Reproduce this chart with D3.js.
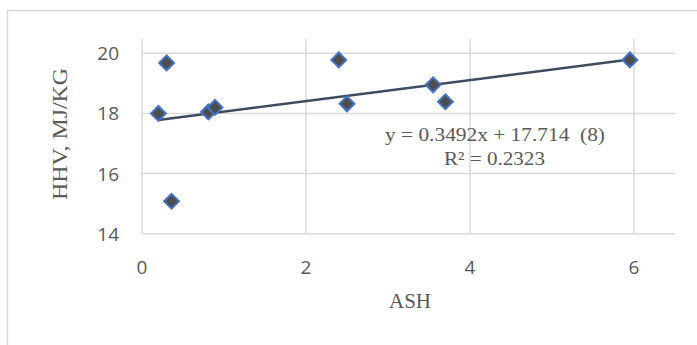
<!DOCTYPE html>
<html>
<head>
<meta charset="utf-8">
<script src="https://cdn.jsdelivr.net/npm/d3@7"></script>
<style>
  body { margin: 0; background: #fff; }
  svg { display: block; }
  text { white-space: pre; }
</style>
</head>
<body>
<div id="chart"></div>
<script>
// ash (%) vs HHV (MJ/kg)
const ash = [0.2, 0.3, 0.36, 0.81, 0.89, 2.4, 2.5, 3.55, 3.7, 5.95];
const hhv = [18.0, 19.68, 15.08, 18.05, 18.2, 19.78, 18.32, 18.95, 18.39, 19.78];
const xTicks = [0, 2, 4, 6];
const yTicks = [14, 16, 18, 20];
const slope = 0.3492;
const intercept = 17.714;
const eqLines = ["y = 0.3492x + 17.714  (8)", "R\u00b2 = 0.2323"];

const width = 697, height = 345;

const svg = d3.select("#chart").append("svg")
    .attr("width", width)
    .attr("height", height);

// chart frame (cut off on the right and bottom)
svg.append("rect")
    .attr("x", 7.5).attr("y", 10.5)
    .attr("width", 720).attr("height", 360)
    .attr("fill", "none")
    .attr("stroke", "#d9d9d9")
    .attr("stroke-width", 1.5);

const x = d3.scaleLinear().domain([0, 6.5]).range([142, 675]);
const y = d3.scaleLinear().domain([14, 20]).range([233.7, 53.3]);
const plotTop = 39;

// gridlines
svg.append("g").selectAll("line.h")
    .data(yTicks).enter().append("line")
    .attr("x1", x(0)).attr("x2", x(6.5))
    .attr("y1", d => y(d)).attr("y2", d => y(d))
    .attr("stroke", "#d9d9d9").attr("stroke-width", 1.5);

svg.append("g").selectAll("line.v")
    .data(xTicks).enter().append("line")
    .attr("x1", d => x(d)).attr("x2", d => x(d))
    .attr("y1", plotTop).attr("y2", y(14))
    .attr("stroke", "#d9d9d9").attr("stroke-width", 1.5);

// tick labels
const tickFont = "'Open Sans', 'Liberation Sans', sans-serif";
svg.append("g").selectAll("text")
    .data(yTicks).enter().append("text")
    .attr("x", 119).attr("y", d => y(d) + 7)
    .attr("text-anchor", "end")
    .attr("font-family", tickFont).attr("font-size", 19)
    .attr("fill", "#595959")
    .text(d => d);

svg.append("g").selectAll("text")
    .data(xTicks).enter().append("text")
    .attr("x", d => x(d)).attr("y", 274)
    .attr("text-anchor", "middle")
    .attr("font-family", tickFont).attr("font-size", 19)
    .attr("fill", "#595959")
    .text(d => d);

// axis titles
const serif = "'Liberation Serif', 'Times New Roman', serif";
svg.append("text")
    .attr("x", 410).attr("y", 308)
    .attr("text-anchor", "middle")
    .attr("font-family", serif).attr("font-size", 21)
    .attr("fill", "#595959")
    .text("ASH");

svg.append("text")
    .attr("transform", "translate(67,134) rotate(-90)")
    .attr("text-anchor", "middle")
    .attr("font-family", serif).attr("font-size", 20)
    .attr("textLength", 132).attr("lengthAdjust", "spacingAndGlyphs")
    .attr("fill", "#595959")
    .text("HHV, MJ/KG");

// trendline
const xMin = d3.min(ash), xMax = d3.max(ash);
svg.append("line")
    .attr("x1", x(xMin)).attr("y1", y(slope * xMin + intercept))
    .attr("x2", x(xMax)).attr("y2", y(slope * xMax + intercept))
    .attr("stroke", "#3d4b60").attr("stroke-width", 2.5);

// markers (diamonds)
const pts = ash.map((a, i) => ({ a: a, h: hhv[i] }));
svg.append("g").selectAll("path")
    .data(pts).enter().append("path")
    .attr("d", d3.symbol().type(d3.symbolSquare).size(110))
    .attr("transform", d => `translate(${x(d.a)},${y(d.h)}) rotate(45)`)
    .attr("fill", "#4d4d4d")
    .attr("stroke", "#4472c4")
    .attr("stroke-width", 2);

// equation label
svg.append("text")
    .attr("x", 495).attr("y", 141)
    .attr("text-anchor", "middle")
    .attr("font-family", serif).attr("font-size", 19)
    .attr("textLength", 220).attr("lengthAdjust", "spacingAndGlyphs")
    .attr("fill", "#595959")
    .text(eqLines[0]);

svg.append("text")
    .attr("x", 494.5).attr("y", 165)
    .attr("text-anchor", "middle")
    .attr("font-family", serif).attr("font-size", 19)
    .attr("textLength", 101).attr("lengthAdjust", "spacingAndGlyphs")
    .attr("fill", "#595959")
    .text(eqLines[1]);
</script>
</body>
</html>
